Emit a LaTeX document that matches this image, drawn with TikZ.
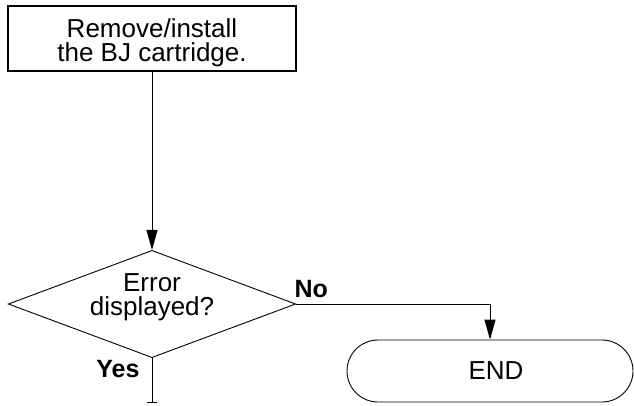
\documentclass[tikz,border=0pt]{standalone}
\usepackage{fontspec}
\setmainfont{Liberation Sans}
\usetikzlibrary{arrows.meta, shapes.geometric}

\begin{document}
\begin{tikzpicture}[
  x=1pt, y=-1pt,
  stepbox/.style  = {draw, line width=1.1pt, minimum width=288pt,
                     minimum height=65pt, align=center,
                     font=\fontsize{26}{24}\selectfont},
  decnode/.style  = {draw, diamond, aspect=2.68, inner sep=0pt,
                     minimum width=287pt, minimum height=107pt,
                     align=center, line width=0.9pt,
                     font=\fontsize{26}{24}\selectfont},
  endnode/.style  = {draw, rounded corners=31pt, minimum width=286pt,
                     minimum height=62pt, line width=0.9pt,
                     font=\fontsize{26}{26}\selectfont},
  flowarr/.style  = {-{Triangle[length=20pt,width=11pt]}, line width=0.9pt},
  lbl/.style      = {font=\fontsize{25}{25}\selectfont\bfseries},
]
\useasboundingbox (0,0) rectangle (634,405);

%% ── Action box ────────────────────────────────────────────────────
\node[stepbox] (step1) at (152,38.5)
  {\rule{0pt}{27pt}Remove/install\\the BJ cartridge.};

%% ── Decision ──────────────────────────────────────────────────────
\node[decnode] (err) at (152,304)
  {Error\\displayed?\rule[-19pt]{0pt}{19pt}};
\draw[flowarr] (step1) -- (err);

%% ── No branch ─────────────────────────────────────────────────────
\node[endnode] (fin) at (490,371) {\hspace*{12pt}END};
\draw[flowarr] (err.east) -| (fin.north);
\node[lbl, anchor=base west] (no) at (291,297) {No};

%% ── Yes branch ────────────────────────────────────────────────────
\coordinate (yesend) at (152,403);
\draw[-{Bar[width=10pt]}, line width=0.9pt] (err.south) -- (yesend);
\node[lbl, anchor=base east] (yes) at (143,377) {Yes};

\end{tikzpicture}
\end{document}
